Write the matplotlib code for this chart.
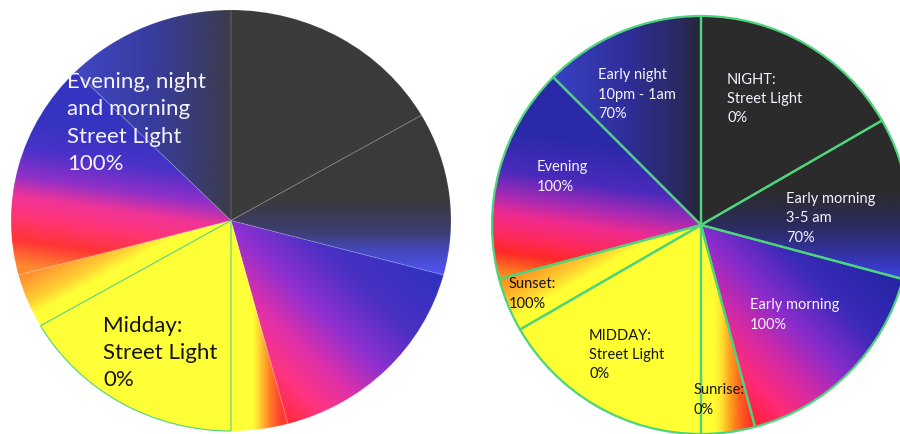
import numpy as np
import matplotlib
matplotlib.use('Agg')
import matplotlib.pyplot as plt
from matplotlib.colors import LinearSegmentedColormap

# hours of the day covered by each slice, clockwise from midnight-ish (top)
segments = ['Night', 'Early morning 3-5', 'Early morning', 'Sunrise',
            'Midday', 'Sunset', 'Evening', 'Early night']
hours = [4, 3, 4, 1, 4, 1, 4, 3]

# labels of the left (simple) pie
left_labels = ['Evening, night\nand morning\nStreet Light\n100%',
               'Midday:\nStreet Light\n0%']
left_label_colors = ['#f6f2ff', '#141414']
left_label_pos = [(67, 123), (103, 353)]   # pixel x of left edge, pixel y of block centre

# labels of the right (detailed) pie
right_labels = ['Early night\n10pm - 1am\n70%',
                'NIGHT:\nStreet Light\n0%',
                'Early morning\n3-5 am\n70%',
                'Evening\n100%',
                'Early morning\n100%',
                'Sunset:\n100%',
                'MIDDAY:\nStreet Light\n0%',
                'Sunrise:\n0%']
right_label_colors = ['#f6f2ff', '#f6f2ff', '#f6f2ff', '#f6f2ff',
                      '#f6f2ff', '#141414', '#141414', '#141414']
right_label_pos = [(598, 95), (727, 99), (786, 218), (537, 177),
                   (750, 315), (509, 294), (589, 355), (694, 400)]

# gradient fills: (direction, [(t, colour), ...]) per slice
left_fills = [
    ((0, 0), [(0, '#3b3b3b'), (1, '#3b3b3b')]),
    ((0, 1), [(-0.25, '#5052f4'), (-0.14, '#4448b8'), (-0.05, '#3c3e70'), (0.1, '#3a3a3a')]),
    ((-0.7, -0.7), [(-0.45, '#3232c0'), (-0.2, '#4a30c4'), (0.02, '#9030d0'),
                    (0.2, '#e030a8'), (0.35, '#ff3580'), (0.5, '#ff2a35')]),
    ((1, 0), [(0.1, '#ffff38'), (0.14, '#ffc030'), (0.18, '#ff7a28'), (0.23, '#ff3a30')]),
    ((0, 0), [(0, '#ffff38'), (1, '#ffff38')]),
    ((0.5, -0.87), [(-0.3, '#ff8030'), (-0.22, '#ff9a30'), (-0.12, '#ffd034'), (-0.06, '#ffff38')]),
    ((-0.15, -1), [(-0.35, '#3434c0'), (-0.2, '#4a32c8'), (-0.07, '#9030c8'), (0.03, '#f03498'),
                   (0.12, '#ff3578'), (0.24, '#ff3535'), (0.36, '#ff8a30')]),
    ((1, 0), [(-0.72, '#4048c4'), (-0.37, '#383ca0'), (-0.12, '#3a3c68'), (0.0, '#3c3c4a')]),
]
right_fills = [
    ((0, 0), [(0, '#2b2b2b'), (1, '#2b2b2b')]),
    ((0, 1), [(-0.27, '#3d46e6'), (-0.15, '#3434aa'), (0.0, '#2b2b5c'), (0.17, '#2b2b2b')]),
    ((-0.7, -0.7), [(-0.45, '#2626a6'), (-0.2, '#3a2ab8'), (0.02, '#8a2ccc'),
                    (0.2, '#d42aa4'), (0.35, '#ff2a78'), (0.5, '#ff2030')]),
    ((1, 0), [(0.06, '#ffff33'), (0.1, '#ffe030'), (0.14, '#ffa020'), (0.19, '#ff6020'), (0.25, '#ff2828')]),
    ((0, 0), [(0, '#ffff33'), (1, '#ffff33')]),
    ((0.5, -0.87), [(-0.3, '#ff7a20'), (-0.22, '#ff9a20'), (-0.12, '#ffd030'), (-0.06, '#ffff33')]),
    ((-0.15, -1), [(-0.32, '#2a2aa8'), (-0.12, '#4a2abc'), (0.0, '#a82ab4'), (0.09, '#f02a90'),
                   (0.2, '#ff2a58'), (0.27, '#ff2828'), (0.38, '#ff8a20')]),
    ((1, 0), [(-0.72, '#3a42c4'), (-0.35, '#2e2e98'), (-0.1, '#2a2a60'), (0.0, '#262636')]),
]

GREEN = '#4ed47c'
W, H = 900, 434


def gradient_rgba(direction, stops, n=500):
    xs = np.linspace(-1, 1, n)
    X, Y = np.meshgrid(xs, xs[::-1])
    t = direction[0] * X + direction[1] * Y
    t0, t1 = stops[0][0], stops[-1][0]
    pos = [(s - t0) / (t1 - t0) for s, _ in stops]
    cmap = LinearSegmentedColormap.from_list('g', list(zip(pos, [c for _, c in stops])))
    return cmap(np.clip((t - t0) / (t1 - t0), 0, 1))


def draw_pie(ax, fills, edgecolors, lw):
    wedges, _ = ax.pie(hours, startangle=90, counterclock=False, radius=1, center=(0, 0),
                       wedgeprops=dict(facecolor='none', linewidth=lw))
    for w, (d, stops), ec in zip(wedges, fills, edgecolors):
        w.set_edgecolor(ec)
        img = ax.imshow(gradient_rgba(d, stops), extent=(-1, 1, -1, 1), origin='upper',
                        interpolation='bilinear', zorder=0)
        img.set_clip_path(w)
    ax.set_aspect('auto')
    ax.set_xlim(-1, 1)
    ax.set_ylim(-1, 1)
    ax.axis('off')
    return wedges


plt.rcParams['font.family'] = ['Lato', 'DejaVu Sans']
fig = plt.figure(figsize=(W / 100, H / 100), dpi=100)

# left pie: centre (231, 220.5), radii 220 x 210.5 px
lcx, lcy, lrx, lry = 231, 220.5, 220, 210.5
axl = fig.add_axes([(lcx - lrx) / W, (H - lcy - lry) / H, 2 * lrx / W, 2 * lry / H])
seam = (1, 1, 1, 0.1)
left_edges = [seam] * 8
left_edges[4] = GREEN
wl = draw_pie(axl, left_fills, left_edges, 0.8)
wl[4].set_zorder(3)

for txt, col, (px, py) in zip(left_labels, left_label_colors, left_label_pos):
    axl.text((px - lcx) / lrx, (lcy - py) / lry, txt, color=col, fontsize=16,
             ha='left', va='center', linespacing=1.45, zorder=5)

# right pie: centre (701, 225), radius 209 px
rcx, rcy, rr = 701, 225, 209
axr = fig.add_axes([(rcx - rr) / W, (H - rcy - rr) / H, 2 * rr / W, 2 * rr / H])
draw_pie(axr, right_fills, [GREEN] * 8, 1.6)

for txt, col, (px, py) in zip(right_labels, right_label_colors, right_label_pos):
    axr.text((px - rcx) / rr, (rcy - py) / rr, txt, color=col, fontsize=10.5,
             ha='left', va='center', linespacing=1.5, zorder=5)

fig.savefig('out.png', dpi=100)
